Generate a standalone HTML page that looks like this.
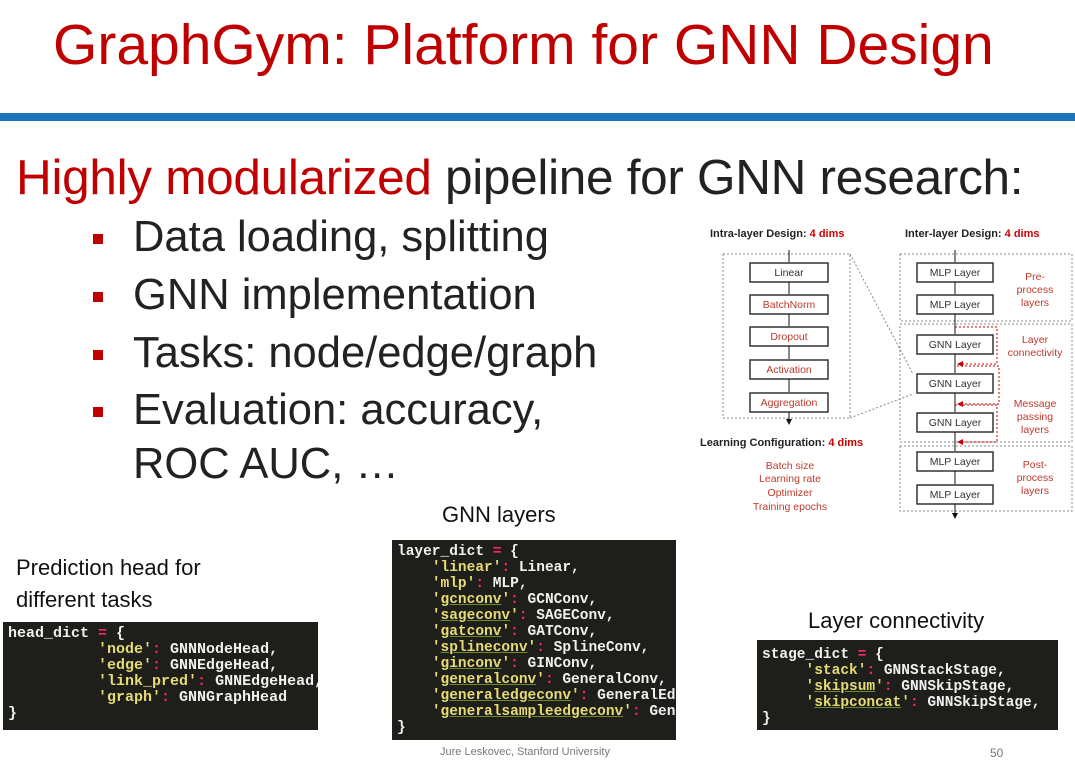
<!DOCTYPE html>
<html><head><meta charset="utf-8"><style>
body{margin:0;width:1075px;height:760px;background:#fff;position:relative;overflow:hidden;font-family:"Liberation Sans",sans-serif}
.a{position:absolute;white-space:nowrap}
.code{position:absolute;background:#1e1e1a;color:#f0f0f0;font-family:"Liberation Mono",monospace;font-size:14.5px;line-height:16px;white-space:pre;padding:4px 0 0 5px;box-sizing:border-box;overflow:hidden;font-weight:bold}
.s{color:#e6db74}.u{color:#e6db74;text-decoration:underline;text-decoration-color:#6a8a30}.p{color:#f92672}
.bl{position:absolute;left:93px;width:10px;height:10px;background:#c00000}
.bt{position:absolute;left:133px;font-size:43.5px;color:#222;white-space:nowrap}
</style></head><body>
<div class="a" style="left:53px;top:12px;font-size:57px;color:#c00000">GraphGym: Platform for GNN Design</div>
<div class="a" style="left:0;top:113px;width:1075px;height:8px;background:#1a72b8"></div>
<div class="a" style="left:16px;top:149px;font-size:49.5px;color:#222;letter-spacing:-0.3px"><span style="color:#c00000">Highly modularized</span> pipeline for GNN research:</div>
<div class="bl" style="top:234px"></div><div class="bt" style="top:213px">Data loading, splitting</div>
<div class="bl" style="top:292px"></div><div class="bt" style="top:271px">GNN implementation</div>
<div class="bl" style="top:350px"></div><div class="bt" style="top:329px">Tasks: node/edge/graph</div>
<div class="bl" style="top:407px"></div><div class="bt" style="top:386px">Evaluation: accuracy,</div>
<div class="bt" style="top:440px">ROC AUC, …</div>

<div class="a" style="left:442px;top:502px;font-size:22px;color:#111">GNN layers</div>
<div class="a" style="left:16px;top:552px;font-size:22px;color:#111;line-height:32px">Prediction head for<br>different tasks</div>
<div class="a" style="left:808px;top:608px;font-size:22px;color:#111">Layer connectivity</div>

<div class="code" style="left:3px;top:622px;width:315px;height:108px;font-size:15px">head_dict <span class="p">=</span> {
          <span class="s">'node'</span><span class="p">:</span> GNNNodeHead,
          <span class="s">'edge'</span><span class="p">:</span> GNNEdgeHead,
          <span class="s">'link_pred'</span><span class="p">:</span> GNNEdgeHead,
          <span class="s">'graph'</span><span class="p">:</span> GNNGraphHead
}</div>

<div class="code" style="left:392px;top:540px;width:284px;height:200px">layer_dict <span class="p">=</span> {
    <span class="s">'linear'</span><span class="p">:</span> Linear,
    <span class="s">'mlp'</span><span class="p">:</span> MLP,
    <span class="s">'</span><span class="u">gcnconv</span><span class="s">'</span><span class="p">:</span> GCNConv,
    <span class="s">'</span><span class="u">sageconv</span><span class="s">'</span><span class="p">:</span> SAGEConv,
    <span class="s">'</span><span class="u">gatconv</span><span class="s">'</span><span class="p">:</span> GATConv,
    <span class="s">'</span><span class="u">splineconv</span><span class="s">'</span><span class="p">:</span> SplineConv,
    <span class="s">'</span><span class="u">ginconv</span><span class="s">'</span><span class="p">:</span> GINConv,
    <span class="s">'</span><span class="u">generalconv</span><span class="s">'</span><span class="p">:</span> GeneralConv,
    <span class="s">'</span><span class="u">generaledgeconv</span><span class="s">'</span><span class="p">:</span> GeneralEdgeConv,
    <span class="s">'</span><span class="u">generalsampleedgeconv</span><span class="s">'</span><span class="p">:</span> GeneralSampleEdgeConv,
}</div>

<div class="code" style="left:757px;top:640px;width:301px;height:90px;padding-top:7px">stage_dict <span class="p">=</span> {
     <span class="s">'stack'</span><span class="p">:</span> GNNStackStage,
     <span class="s">'</span><span class="u">skipsum</span><span class="s">'</span><span class="p">:</span> GNNSkipStage,
     <span class="s">'</span><span class="u">skipconcat</span><span class="s">'</span><span class="p">:</span> GNNSkipStage,
}</div>

<div class="a" style="left:440px;top:746px;font-size:11px;color:#777">Jure Leskovec, Stanford University</div>
<div class="a" style="left:990px;top:746px;font-size:12px;color:#777">50</div>

<svg class="a" style="left:0;top:0" width="1075" height="760" font-family="Liberation Sans, sans-serif">
<defs><marker id="ar" markerWidth="6" markerHeight="6" refX="5" refY="3" orient="auto"><path d="M0,0L6,3L0,6z" fill="#111"/></marker></defs>
<g font-size="11" font-weight="bold" fill="#222">
<text x="710" y="237">Intra-layer Design: <tspan fill="#c00">4 dims</tspan></text>
<text x="905" y="237">Inter-layer Design: <tspan fill="#c00">4 dims</tspan></text>
<text x="700" y="446">Learning Configuration: <tspan fill="#c00">4 dims</tspan></text>
</g>
<g font-size="10.5" fill="#c0392b" text-anchor="middle">
<text x="790" y="469">Batch size</text><text x="790" y="482">Learning rate</text><text x="790" y="496">Optimizer</text><text x="790" y="510">Training epochs</text>
<text x="1035" y="280">Pre-</text><text x="1035" y="293">process</text><text x="1035" y="306">layers</text>
<text x="1035" y="343">Layer</text><text x="1035" y="356">connectivity</text>
<text x="1035" y="407">Message</text><text x="1035" y="420">passing</text><text x="1035" y="433">layers</text>
<text x="1035" y="468">Post-</text><text x="1035" y="481">process</text><text x="1035" y="494">layers</text>
</g>
<g fill="none" stroke="#888" stroke-dasharray="2,2" stroke-width="1">
<rect x="723" y="254" width="127" height="164"/>
<path d="M850 254 L913 374 M850 418 L913 394"/>
<rect x="900" y="254" width="172" height="67"/>
<rect x="900" y="324" width="172" height="118"/>
<rect x="900" y="446" width="172" height="65"/>
</g>
<g fill="#fff" stroke="#333" stroke-width="1.5">
<rect x="750" y="263" width="78" height="19"/><rect x="750" y="295" width="78" height="19"/><rect x="750" y="327" width="78" height="19"/><rect x="750" y="360" width="78" height="19"/><rect x="750" y="393" width="78" height="19"/>
<rect x="917" y="263" width="76" height="19"/><rect x="917" y="295" width="76" height="19"/><rect x="917" y="335" width="76" height="19"/><rect x="917" y="374" width="76" height="19"/><rect x="917" y="413" width="76" height="19"/><rect x="917" y="452" width="76" height="19"/><rect x="917" y="485" width="76" height="19"/>
</g>
<g font-size="10.5" text-anchor="middle">
<text x="789" y="276" fill="#333">Linear</text><text x="789" y="308" fill="#c0392b">BatchNorm</text><text x="789" y="340" fill="#c0392b">Dropout</text><text x="789" y="373" fill="#c0392b">Activation</text><text x="789" y="406" fill="#c0392b">Aggregation</text>
<text x="955" y="276" fill="#333">MLP Layer</text><text x="955" y="308" fill="#333">MLP Layer</text><text x="955" y="348" fill="#333">GNN Layer</text><text x="955" y="387" fill="#333">GNN Layer</text><text x="955" y="426" fill="#333">GNN Layer</text><text x="955" y="465" fill="#333">MLP Layer</text><text x="955" y="498" fill="#333">MLP Layer</text>
</g>
<g stroke="#111" stroke-width="1" marker-end="url(#ar)">
<path d="M789 250V262M789 282V294M789 314V326M789 346V359M789 379V392M789 412V424"/>
<path d="M955 250V262M955 282V294M955 314V334M955 354V373M955 393V412M955 432V451M955 471V484M955 504V518"/>
</g>
<g stroke="#c00" stroke-width="1" fill="none" stroke-dasharray="2,2">
<path d="M955 327H997V364H962"/><path d="M957 366H999V404H962"/><path d="M955 405H997V442H962"/>
</g>
<g fill="#c00"><path d="M957 364l6-3v6z"/><path d="M957 404l6-3v6z"/><path d="M957 442l6-3v6z"/></g>
</svg>
</body></html>
